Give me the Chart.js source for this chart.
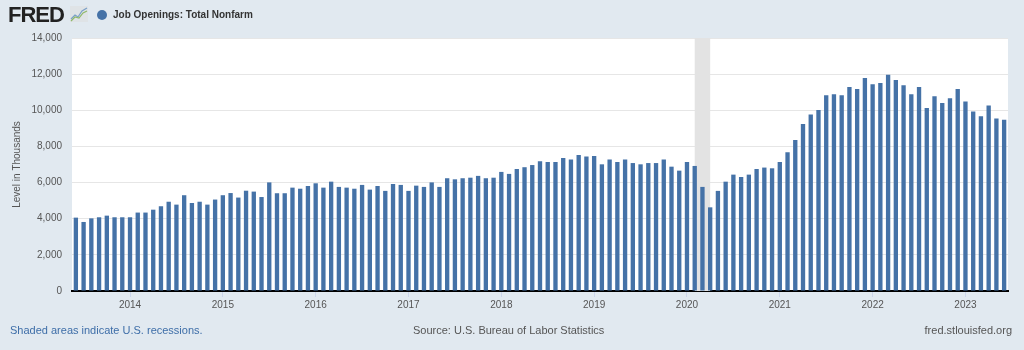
<!DOCTYPE html>
<html>
<head>
<meta charset="utf-8">
<script src="https://cdn.jsdelivr.net/npm/chart.js@4.4.0/dist/chart.umd.min.js"></script>
<style>
    body { margin: 0; background: #e1e9f0; font-family: "Liberation Sans", Arial, sans-serif; }
    #wrap { position: relative; width: 1024px; height: 350px; overflow: hidden; background: #e1e9f0; }
    #chart-box { position: absolute; left: 0; top: 0; width: 1024px; height: 350px; }
    .logo { position: absolute; left: 8px; top: 2px; font-size: 22px; font-weight: 900; letter-spacing: -1px; color: #222; }
    .logo-icon { position: absolute; left: 70px; top: 6px; }
    .legend { position: absolute; left: 97px; top: 9px; font-size: 10px; font-weight: bold; color: #333; display: flex; align-items: center; }
    .legend .dot { width: 10px; height: 10px; border-radius: 50%; background: #4572a7; margin-right: 6px; }
    .foot { position: absolute; top: 324px; font-size: 11px; color: #555; }
    .foot.left { left: 10px; color: #3e6ea8; }
    .foot.mid { left: 413px; }
    .foot.right { right: 12px; }
</style>
</head>
<body>
<div id="wrap">
    <div id="chart-box"><canvas id="chartJolts"></canvas></div>
    <div class="logo">FRED</div>
    <svg class="logo-icon" width="18" height="16" viewBox="0 0 18 16">
        <rect x="0" y="0" width="18" height="16" fill="#dfe3e6"/>
        <polyline points="1,13 5,9 8,11 12,5 17,2" fill="none" stroke="#7aa0c8" stroke-width="1.2"/>
        <polyline points="1,15 5,11 9,12 13,7 17,5" fill="none" stroke="#8fb86a" stroke-width="1.2"/>
    </svg>
    <div class="legend"><span class="dot"></span>Job Openings: Total Nonfarm</div>
    <div class="foot left">Shaded areas indicate U.S. recessions.</div>
    <div class="foot mid">Source: U.S. Bureau of Labor Statistics</div>
    <div class="foot right">fred.stlouisfed.org</div>
</div>
<script>
// Job openings, thousands, monthly from Jun 2013 to Jun 2023
const startYear = 2013;
const startMonth = 6;
const jobOpenings = [
    4060, 3820, 4020, 4080, 4170, 4080, 4080, 4080, 4340, 4340, 4500, 4690, 4940, 4780, 5300, 4870,
    4940, 4780, 5060, 5300, 5420, 5170, 5550, 5500, 5200,
    6010, 5410, 5410, 5720, 5660, 5810, 5960, 5720, 6050, 5760, 5720, 5660, 5870, 5610, 5810, 5540,
    5920, 5870, 5540, 5830, 5760, 6010, 5760,
    6240, 6180, 6240, 6270, 6370, 6240, 6270, 6590, 6480, 6750, 6850, 6970,
    7180, 7140, 7140, 7360, 7270, 7530, 7440, 7470, 7010, 7270, 7140, 7270,
    7080, 7010, 7080, 7080, 7270, 6880, 6660, 7140,
    6920, 5760, 4630, 5540, 6050, 6440, 6310, 6440, 6750, 6830, 6790,
    7140, 7680, 8360, 9240, 9760,
    10020, 10830, 10890, 10830, 11290, 11180, 11790,
    11440, 11510, 11960, 11680, 11380, 10890, 11290, 10130, 10770, 10410, 10660, 11180,
    10480, 9930, 9670, 10260, 9540, 9480
];
const recessions = [["2020-02", "2020-04"]];
const yTicks = [0, 2000, 4000, 6000, 8000, 10000, 12000, 14000];

const months = jobOpenings.map((v, i) => {
    const m = startMonth - 1 + i;
    const y = startYear + Math.floor(m / 12);
    return y + "-" + String(m % 12 + 1).padStart(2, "0");
});

const isJanuary = i => months[i] && months[i].endsWith("-01");

// fondo blanco del area del grafico
const plotBackground = {
    id: "plotBackground",
    beforeDraw(chart) {
        const { ctx, chartArea } = chart;
        ctx.save();
        ctx.fillStyle = "#ffffff";
        ctx.fillRect(chartArea.left, chartArea.top, chartArea.right - chartArea.left, chartArea.bottom - chartArea.top);
        ctx.restore();
    }
};

// bandas de recesion
const recessionBands = {
    id: "recessionBands",
    beforeDatasetsDraw(chart) {
        const { ctx, chartArea, scales } = chart;
        recessions.forEach(([from, to]) => {
            const x0 = scales.x.getPixelForValue(months.indexOf(from));
            const x1 = scales.x.getPixelForValue(months.indexOf(to));
            ctx.save();
            ctx.fillStyle = "#e3e3e3";
            ctx.fillRect(x0, chartArea.top, x1 - x0, chartArea.bottom - chartArea.top);
            ctx.restore();
        });
    }
};

Chart.defaults.font.family = '"Liberation Sans", Arial, sans-serif';

new Chart(document.getElementById("chartJolts"), {
    type: "bar",
    data: {
        labels: months,
        datasets: [{
            label: "Job Openings: Total Nonfarm",
            data: jobOpenings,
            backgroundColor: "#4572a7",
            borderWidth: 0,
            barPercentage: 1,
            categoryPercentage: 0.56
        }]
    },
    options: {
        responsive: true,
        maintainAspectRatio: false,
        animation: false,
        layout: { padding: { left: 8, right: 16, top: 38, bottom: 39 } },
        plugins: {
            legend: { display: false },
            tooltip: { enabled: false }
        },
        scales: {
            x: {
                afterFit: scale => { scale.height = 20; },
                border: { display: true, color: "#000000", width: 2 },
                grid: {
                    offset: false,
                    drawOnChartArea: false,
                    drawTicks: true,
                    tickLength: 6,
                    tickColor: ctx => isJanuary(ctx.index) ? "#ccd6eb" : "rgba(0,0,0,0)"
                },
                ticks: {
                    autoSkip: false,
                    maxRotation: 0,
                    padding: 2,
                    color: "#555555",
                    font: { size: 10 },
                    callback: (val, i) => isJanuary(i) ? months[i].slice(0, 4) : ""
                }
            },
            y: {
                min: 0,
                max: 14000,
                afterFit: scale => { scale.width = 64; },
                afterBuildTicks: scale => { scale.ticks = yTicks.map(v => ({ value: v })); },
                border: { display: false },
                grid: { color: "#e6e6e6", drawTicks: false },
                ticks: {
                    padding: 10,
                    color: "#555555",
                    font: { size: 10 },
                    callback: v => v.toLocaleString("en-US")
                },
                title: {
                    display: true,
                    text: "Level in Thousands",
                    color: "#555555",
                    font: { size: 10 },
                    padding: { top: 3, bottom: 0 }
                }
            }
        }
    },
    plugins: [plotBackground, recessionBands]
});
</script>
</body>
</html>
